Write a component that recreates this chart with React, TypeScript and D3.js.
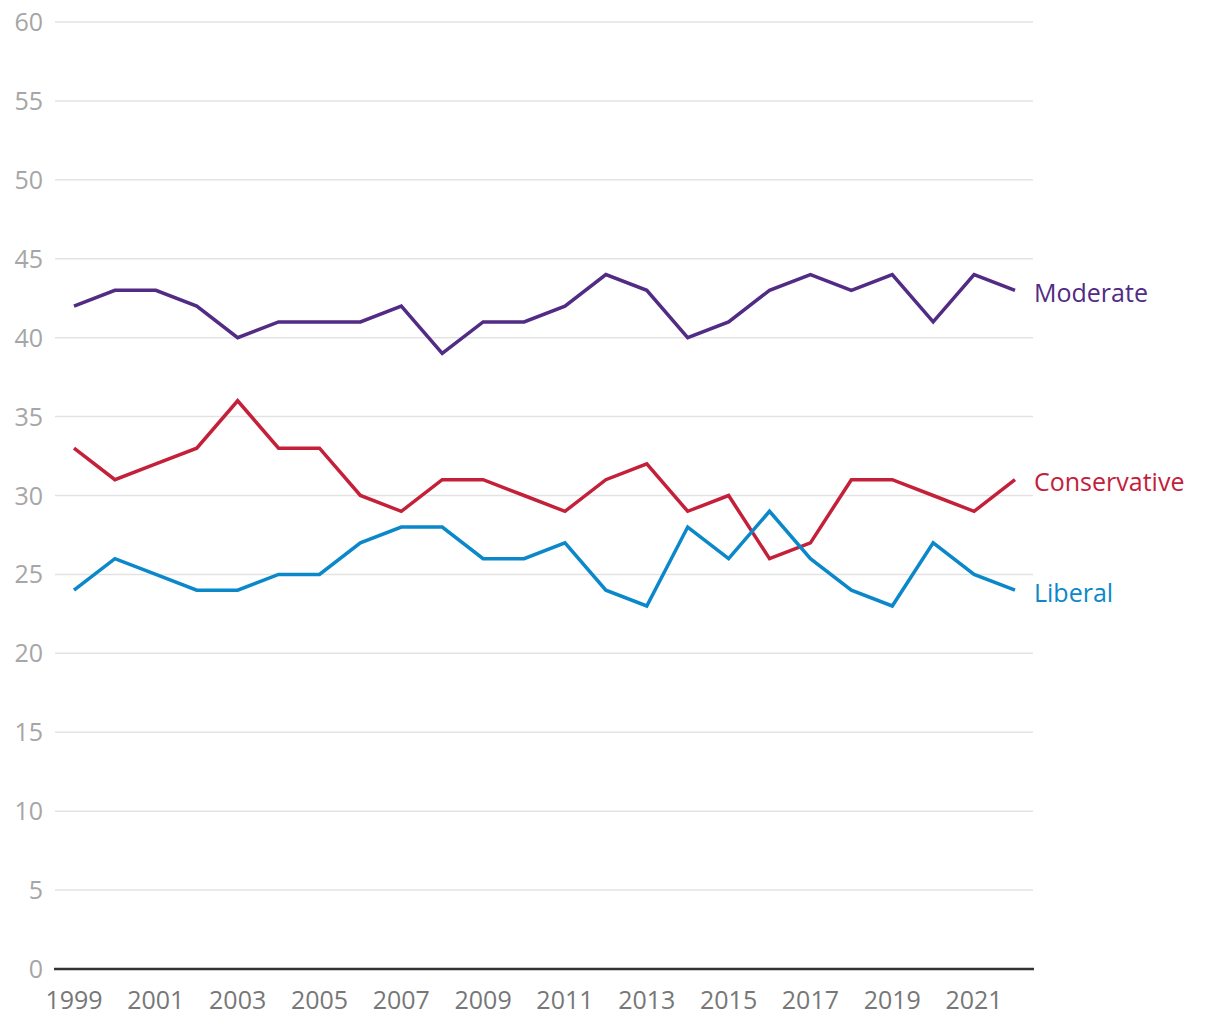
import React from "react";
import * as d3 from "d3";

const years = [1999,2000,2001,2002,2003,2004,2005,2006,2007,2008,2009,2010,2011,2012,2013,2014,2015,2016,2017,2018,2019,2020,2021,2022];
const moderate = [42,43,43,42,40,41,41,41,42,39,41,41,42,44,43,40,41,43,44,43,44,41,44,43];
const conservative = [33,31,32,33,36,33,33,30,29,31,31,30,29,31,32,29,30,26,27,31,31,30,29,31];
const liberal = [24,26,25,24,24,25,25,27,28,28,26,26,27,24,23,28,26,29,26,24,23,27,25,24];
const yTicks = [0,5,10,15,20,25,30,35,40,45,50,55,60];
const xTicks = [1999,2001,2003,2005,2007,2009,2011,2013,2015,2017,2019,2021];

const seriesList = [
  { name: "Moderate", values: moderate, color: "#512b84" },
  { name: "Conservative", values: conservative, color: "#c4203a" },
  { name: "Liberal", values: liberal, color: "#0a88c9" },
];

export default function App() {
  const W = 1220, H = 1020;
  const x = d3.scaleLinear().domain([1999, 2022]).range([74, 1015]);
  const y = d3.scaleLinear().domain([0, 60]).range([969, 22]);
  const font = "'Open Sans', sans-serif";
  const line = d3.line<number>().x((_, i) => x(years[i])).y((v) => y(v));
  return (
    <svg width={W} height={H} style={{ position: "absolute", left: 0, top: 0, background: "#fff" }} fontFamily={font}>
      {yTicks.map((t) => (
        <g key={t}>
          {t > 0 && <line x1={55} x2={1033} y1={y(t)} y2={y(t)} stroke="#e3e3e3" strokeWidth={1.5} />}
          <text x={43} y={y(t)} dy="0.36em" textAnchor="end" fontSize={25} fill="#a6a6a6">{t}</text>
        </g>
      ))}
      <line x1={54} x2={1034} y1={y(0)} y2={y(0)} stroke="#333" strokeWidth={2.5} />
      {xTicks.map((t) => (
        <text key={t} x={x(t)} y={1009} textAnchor="middle" fontSize={25} fill="#777">{t}</text>
      ))}
      {seriesList.map((s) => (
        <g key={s.name}>
          <path d={line(s.values) || ""} fill="none" stroke={s.color} strokeWidth={3.5} strokeLinejoin="miter" />
          <text x={1034} y={y(s.values[s.values.length - 1]) + 3} dy="0.35em" fontSize={25} fill={s.color}>{s.name}</text>
        </g>
      ))}
    </svg>
  );
}
